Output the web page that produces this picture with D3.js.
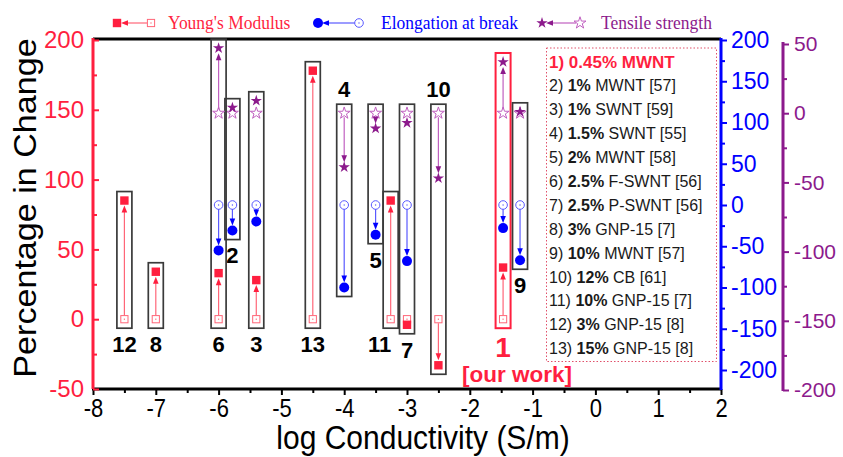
<!DOCTYPE html>
<html>
<head>
<meta charset="utf-8">
<script src="https://cdn.jsdelivr.net/npm/d3@7"></script>
<style>
  body { margin: 0; background: #fff; }
  svg { display: block; }
  text { font-family: Arial, "Liberation Sans", sans-serif; }
</style>
</head>
<body>
<svg id="chart" width="843" height="457"></svg>
<script>
// Samples: id, log conductivity and % change of each mechanical property
const sampleIds        = [1, 2, 3, 4, 5, 6, 7, 8, 9, 10, 11, 12, 13];
const logConductivity  = [-1.47, -5.78, -5.4, -4, -3.5, -6, -3, -7, -1.2, -2.5, -3.26, -7.5, -4.5];
const youngsChange     = [37, null, 28, null, null, 33, -4, 34, null, -33, 85, 85, 178];
const elongationChange = [-28, -31, -20, -100, -36, -55, -68, null, -67, null, null, null, null];
const tensileChange    = [37, 4, 9, -39, -11, 47, -7, null, 1, -47, null, null, null];
const labelsAbove      = [4, 10];

// Key of sample compositions
const noteLoading = ["0.45%", "1%", "1%", "1.5%", "2%", "2.5%", "2.5%", "3%", "10%", "12%", "10%", "3%", "15%"];
const noteFiller  = ["MWNT", "MWNT [57]", "SWNT [59]", "SWNT [55]", "MWNT [58]", "F-SWNT [56]", "P-SWNT [56]",
                     "GNP-15 [7]", "MWNT [57]", "CB [61]", "GNP-15 [7]", "GNP-15 [8]", "GNP-15 [8]"];

const xTicks      = d3.range(-8, 3, 1);
const leftTicks   = [-50, 0, 50, 100, 150, 200];
const blueTicks   = [-200, -150, -100, -50, 0, 50, 100, 150, 200];
const purpleTicks = [-200, -150, -100, -50, 0, 50];
const legendNames = ["Young's Modulus", "Elongation at break", "Tensile strength"];

const RED = "#ff1f3f", RED_L = "#ff6678";
const BLUE = "#0000ff", BLUE_L = "#5a5aff";
const PURP = "#8c1a8c", PURP_L = "#c060c0";

const svg = d3.select("#chart");

const x  = d3.scaleLinear().domain([-8, 2]).range([93, 721]);
const yL = d3.scaleLinear().domain([-50, 200]).range([389, 40]);
const yB = d3.scaleLinear().domain([-200, 200]).range([370, 40]);
const yP = d3.scaleLinear().domain([-200, 50]).range([390, 44]);

const fmt = d => String(d);

function styleAxis(g, color, size) {
  g.select(".domain").remove();
  g.selectAll(".tick line").attr("stroke", color).attr("stroke-width", 2);
  g.selectAll(".tick text").attr("fill", color).style("font-size", size + "px");
}

// frame top
svg.append("line").attr("x1", 93).attr("x2", 721).attr("y1", 39).attr("y2", 39)
  .attr("stroke", "#000").attr("stroke-width", 3);

// bottom axis
const gxMinor = svg.append("g").attr("transform", "translate(0,389)")
  .call(d3.axisBottom(x).tickValues(d3.range(-7.5, 2, 1)).tickSize(4).tickFormat(""));
styleAxis(gxMinor, "#000", 22);
const gx = svg.append("g").attr("transform", "translate(0,389)")
  .call(d3.axisBottom(x).tickValues(xTicks).tickSize(6).tickPadding(3).tickFormat(fmt));
styleAxis(gx, "#000", 22);
gx.selectAll(".tick text").attr("transform", "scale(1,1.15)");
svg.append("line").attr("x1", 92).attr("x2", 722).attr("y1", 389).attr("y2", 389)
  .attr("stroke", "#000").attr("stroke-width", 3);

// left axis (Young's modulus scale)
const gyMinor = svg.append("g").attr("transform", "translate(93,0)")
  .call(d3.axisLeft(yL).tickValues(d3.range(-25, 200, 50)).tickSize(-4).tickFormat(""));
styleAxis(gyMinor, RED, 24);
const gy = svg.append("g").attr("transform", "translate(93,0)")
  .call(d3.axisLeft(yL).tickValues(leftTicks).tickSizeInner(-6).tickSizeOuter(0).tickPadding(9).tickFormat(fmt));
styleAxis(gy, RED, 24);
svg.append("line").attr("x1", 93).attr("x2", 93).attr("y1", 38).attr("y2", 389)
  .attr("stroke", RED).attr("stroke-width", 3);

// right axis (elongation scale)
const gbMinor = svg.append("g").attr("transform", "translate(721,0)")
  .call(d3.axisRight(yB).tickValues(d3.range(-175, 200, 50)).tickSize(4).tickFormat(""));
styleAxis(gbMinor, BLUE, 23);
const gb = svg.append("g").attr("transform", "translate(721,0)")
  .call(d3.axisRight(yB).tickValues(blueTicks).tickSize(6).tickPadding(4).tickFormat(fmt));
styleAxis(gb, BLUE, 23);
svg.append("line").attr("x1", 721).attr("x2", 721).attr("y1", 38).attr("y2", 390)
  .attr("stroke", BLUE).attr("stroke-width", 3);

// offset axis (tensile strength scale)
const gpMinor = svg.append("g").attr("transform", "translate(783,0)")
  .call(d3.axisRight(yP).tickValues(d3.range(-175, 50, 50)).tickSize(4).tickFormat(""));
styleAxis(gpMinor, PURP, 21);
const gp = svg.append("g").attr("transform", "translate(783,0)")
  .call(d3.axisRight(yP).tickValues(purpleTicks).tickSize(6).tickPadding(5).tickFormat(fmt));
styleAxis(gp, PURP, 21);
svg.append("line").attr("x1", 783).attr("x2", 783).attr("y1", 42).attr("y2", 391)
  .attr("stroke", PURP).attr("stroke-width", 3);

// axis titles
svg.append("text").attr("transform", "translate(36,208) rotate(-90) scale(1.1,1)")
  .attr("text-anchor", "middle").style("font-size", "31px").attr("fill", "#000")
  .text("Percentage in Change");
svg.append("text").attr("transform", "translate(423,449) scale(1,1.08)")
  .attr("text-anchor", "middle").style("font-size", "30px").attr("fill", "#000")
  .text("log Conductivity (S/m)");

// marker helpers
const star = d3.symbol(d3.symbolStar);
function filledMarker(g, kind, cx, cy) {
  if (kind === 0) {
    g.append("rect").attr("x", cx - 4.2).attr("y", cy - 4.2).attr("width", 8.4).attr("height", 8.4).attr("fill", RED);
  } else if (kind === 1) {
    g.append("circle").attr("cx", cx).attr("cy", cy).attr("r", 5).attr("fill", BLUE);
  } else {
    g.append("path").attr("d", star.size(40)()).attr("transform", `translate(${cx},${cy})`).attr("fill", PURP);
  }
}
function openMarker(g, kind, cx, cy) {
  if (kind === 0) {
    g.append("rect").attr("x", cx - 3.6).attr("y", cy - 3.6).attr("width", 7.2).attr("height", 7.2)
      .attr("fill", "#fff").attr("stroke", RED_L).attr("stroke-width", 1);
    g.append("rect").attr("x", cx - 0.6).attr("y", cy - 0.6).attr("width", 1.2).attr("height", 1.2).attr("fill", RED_L);
  } else if (kind === 1) {
    g.append("circle").attr("cx", cx).attr("cy", cy).attr("r", 4.3)
      .attr("fill", "#fff").attr("stroke", BLUE_L).attr("stroke-width", 1);
    g.append("circle").attr("cx", cx).attr("cy", cy).attr("r", 0.7).attr("fill", BLUE_L);
  } else {
    g.append("path").attr("d", star.size(44)()).attr("transform", `translate(${cx},${cy})`)
      .attr("fill", "#fff").attr("stroke", PURP_L).attr("stroke-width", 1);
  }
}
const lineColor = [RED_L, BLUE_L, PURP_L];
const headColor = [RED, BLUE, PURP];

// vertical arrow from the neat-polymer value to the composite value
function vArrow(g, kind, cx, y0, y1) {
  const dir = Math.sign(y1 - y0);
  const gap = 5;
  if (Math.abs(y1 - y0) < gap + 9) return;
  const tip = y1 - dir * gap;
  g.append("line").attr("x1", cx).attr("x2", cx).attr("y1", y0 + dir * 4).attr("y2", tip - dir * 5)
    .attr("stroke", lineColor[kind]).attr("stroke-width", 1.2);
  g.append("path").attr("d", `M${cx},${tip}L${cx - 2.8},${tip - dir * 7}L${cx + 2.8},${tip - dir * 7}Z`)
    .attr("fill", headColor[kind]);
}

// legend
const legendX = [[117, 151, 168], [318, 359, 381], [542, 580, 601]];
const legendY = 23;
legendNames.forEach((name, k) => {
  const [fx, ox, tx] = legendX[k];
  const g = svg.append("g");
  g.append("line").attr("x1", fx + 8).attr("x2", ox - 4).attr("y1", legendY).attr("y2", legendY)
    .attr("stroke", lineColor[k]).attr("stroke-width", 1.2);
  g.append("path").attr("d", `M${fx + 4},${legendY}L${fx + 11},${legendY - 2.8}L${fx + 11},${legendY + 2.8}Z`)
    .attr("fill", headColor[k]);
  openMarker(g, k, ox, legendY);
  filledMarker(g, k, fx, legendY);
  g.append("text").attr("transform", `translate(${tx},${legendY + 6}) scale(1,1.12)`)
    .style("font-family", "'Liberation Serif','Times New Roman',serif").style("font-size", "17.5px")
    .attr("fill", headColor[k]).text(name);
});

// samples
const scales = [yL, yB, yP];
sampleIds.forEach((id, i) => {
  const cx = x(logConductivity[i]);
  const vals = [youngsChange[i], elongationChange[i], tensileChange[i]];
  const g = svg.append("g");
  const ys = [];
  vals.forEach((v, k) => {
    if (v === null) return;
    ys.push(scales[k](0), scales[k](v));
  });
  const top = d3.min(ys) - 9, bottom = d3.max(ys) + 9;
  const isOurs = id === 1;
  g.append("rect").attr("x", cx - 7.5).attr("y", top).attr("width", 15).attr("height", bottom - top)
    .attr("fill", "none").attr("stroke", isOurs ? RED : "#3a3a3a").attr("stroke-width", isOurs ? 2 : 1.7);
  vals.forEach((v, k) => {
    if (v === null) return;
    const y0 = scales[k](0), y1 = scales[k](v);
    openMarker(g, k, cx, y0);
    vArrow(g, k, cx, y0, y1);
    filledMarker(g, k, cx, y1);
  });
  const above = labelsAbove.includes(id);
  const nudge = id === 11 ? -11 : 0;
  if (isOurs) {
    g.append("text").attr("x", cx).attr("y", bottom + 19).attr("dy", "0.36em")
      .attr("text-anchor", "middle").style("font-size", "28px").style("font-weight", "bold")
      .attr("fill", RED).text(id);
    g.append("text").attr("x", cx + 14).attr("y", bottom + 46).attr("dy", "0.36em")
      .attr("text-anchor", "middle").style("font-size", "22.5px").style("font-weight", "bold")
      .attr("fill", RED).text("[our work]");
  } else {
    g.append("text").attr("x", cx + nudge).attr("y", above ? top - 15 : bottom + 16).attr("dy", "0.36em")
      .attr("text-anchor", "middle").style("font-size", "22px").style("font-weight", "bold")
      .attr("fill", "#000").text(id);
  }
});

// composition key
svg.append("rect").attr("x", 546.5).attr("y", 48).attr("width", 170).attr("height", 313.5)
  .attr("fill", "none").attr("stroke", "#e0506a").attr("stroke-width", 1).attr("stroke-dasharray", "1.5,2");
noteLoading.forEach((load, i) => {
  const t = svg.append("text").attr("x", 549).attr("y", 61.7 + i * 23.9).attr("dy", "0.36em")
    .style("font-size", "16px").attr("fill", i === 0 ? RED : "#1a1a1a");
  if (i === 0) {
    t.style("font-weight", "bold").style("font-size", "17px").text(`${sampleIds[i]}) ${load} ${noteFiller[i]}`);
  } else {
    t.append("tspan").text(`${sampleIds[i]}) `);
    t.append("tspan").style("font-weight", "bold").text(load);
    t.append("tspan").text(` ${noteFiller[i]}`);
  }
});
</script>
</body>
</html>
